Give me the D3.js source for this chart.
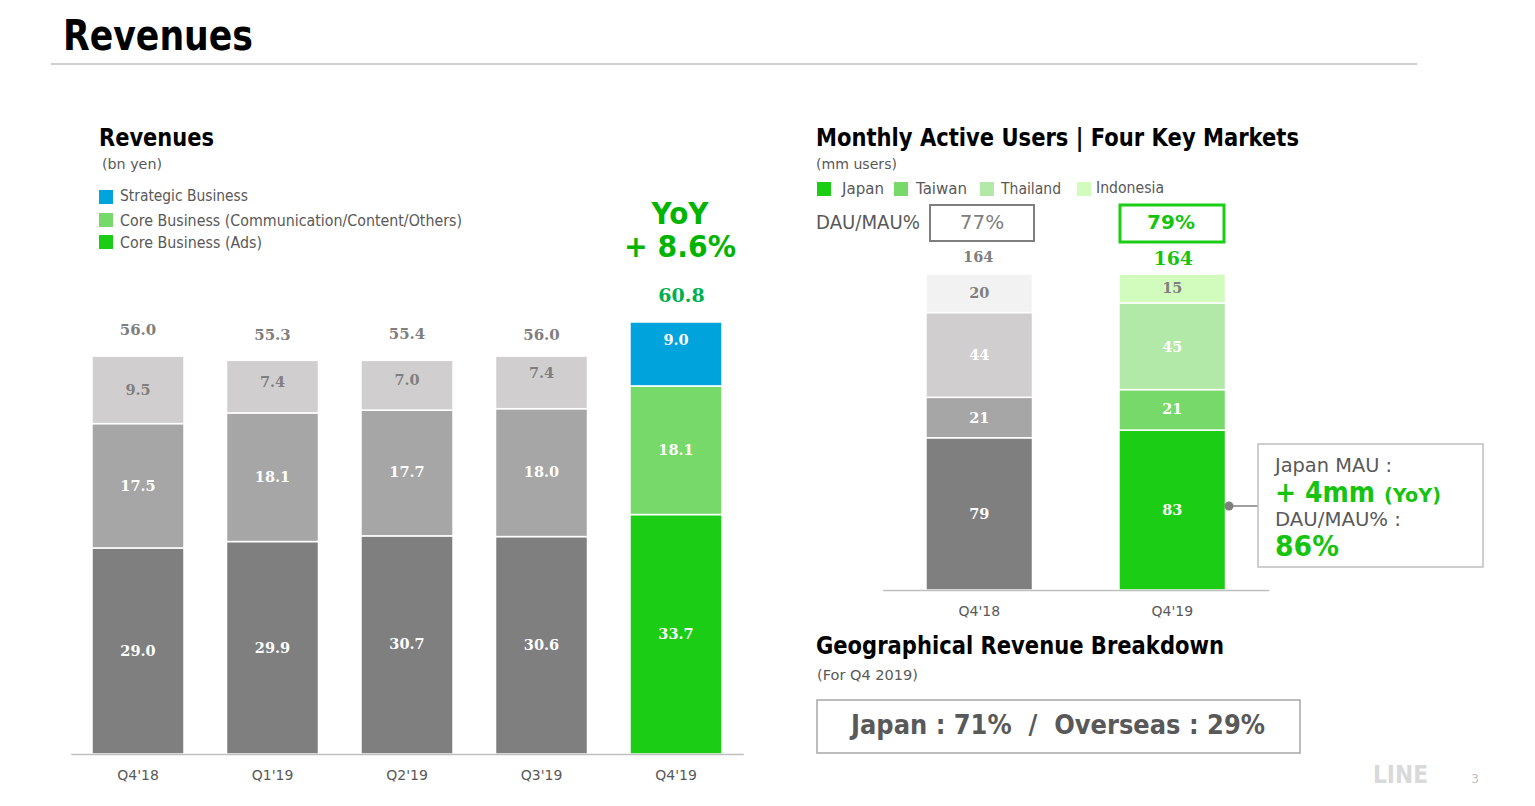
<!DOCTYPE html>
<html>
<head>
<meta charset="utf-8">
<script src="https://cdn.jsdelivr.net/npm/d3@7"></script>
<style>
body { margin: 0; background: #fff; }
svg { display: block; }
text { font-family: "DejaVu Sans", sans-serif; }
.domain { stroke: #bfbfbf; stroke-width: 1.5; }
</style>
</head>
<body>
<div id="chart"></div>
<script>
// revenues (bn yen)
var revQuarters = ["Q4'18", "Q1'19", "Q2'19", "Q3'19", "Q4'19"];
var revAds = [29.0, 29.9, 30.7, 30.6, 33.7];
var revCore = [17.5, 18.1, 17.7, 18.0, 18.1];
var revStrategic = [9.5, 7.4, 7.0, 7.4, 9.0];
var revTotals = ["56.0", "55.3", "55.4", "56.0", "60.8"];
var revLegend = ["Strategic Business", "Core Business (Communication/Content/Others)", "Core Business (Ads)"];

// monthly active users (mm users)
var mauQuarters = ["Q4'18", "Q4'19"];
var mauJapan = [79, 83];
var mauTaiwan = [21, 21];
var mauThailand = [44, 45];
var mauIndonesia = [20, 15];
var mauTotals = ["164", "164"];
var dauMau = ["77%", "79%"];
var mauLegend = ["Japan", "Taiwan", "Thailand", "Indonesia"];

var GREEN = "#1bcd14", GREEN2 = "#76d96a", GREEN3 = "#b2e9a9", GREEN4 = "#d2fcbe", BLUE = "#00a3dc";
var GREY = "#7f7f7f", GREY2 = "#a6a6a6", GREY3 = "#d0cece", GREY4 = "#f2f2f2";
var TEXT = "#595959", SOFT = "#7f7f7f";

var svg = d3.select("#chart").append("svg").attr("width", 1535).attr("height", 806);

// text helper, w squeezes the run to the width measured off the slide
function label(x, y, str, size, fill, weight, anchor, w, family) {
    var t = svg.append("text")
        .attr("x", x).attr("y", y)
        .attr("font-size", size)
        .attr("fill", fill)
        .attr("font-weight", weight || "normal")
        .attr("text-anchor", anchor || "start")
        .text(str);
    if (w) t.attr("textLength", w).attr("lengthAdjust", "spacingAndGlyphs");
    if (family) t.style("font-family", family);
    return t;
}
var SERIF = '"DejaVu Serif", serif';

function box(x, y, w, h, stroke, sw) {
    svg.append("rect").attr("x", x).attr("y", y).attr("width", w).attr("height", h)
        .attr("fill", "#fff").attr("stroke", stroke).attr("stroke-width", sw);
}

function stackChart(cfg) {
    var rows = cfg.categories.map(function(c, i) {
        var row = {cat: c};
        cfg.keys.forEach(function(k, j) { row[k] = cfg.series[j][i]; });
        return row;
    });
    var x = d3.scaleBand().domain(cfg.categories).range(cfg.xRange)
        .paddingInner(cfg.padding).paddingOuter(cfg.padding / 2);
    var y = d3.scaleLinear().domain([0, cfg.max]).range(cfg.yRange);
    var layers = d3.stack().keys(cfg.keys)(rows);
    var g = svg.append("g");
    layers.forEach(function(layer, j) {
        var marks = g.selectAll(null).data(layer).enter();
        marks.append("rect")
            .attr("x", function(d) { return x(d.data.cat); })
            .attr("y", function(d) { return y(d[1]); })
            .attr("width", x.bandwidth())
            .attr("height", function(d) { return y(d[0]) - y(d[1]); })
            .attr("fill", function(d, i) { return cfg.colors(i)[j]; })
            .attr("stroke", "#fff")
            .attr("stroke-width", 1.5);
        marks.append("text")
            .attr("x", function(d) { return x(d.data.cat) + x.bandwidth() / 2; })
            .attr("y", function(d, i) { return (y(d[0]) + y(d[1])) / 2 + cfg.nudge(j, i) + 5; })
            .attr("text-anchor", "middle")
            .attr("font-size", cfg.valueSize)
            .attr("font-weight", "bold")
            .attr("fill", function(d, i) { return cfg.labelColors(i)[j]; })
            .style("font-family", SERIF)
            .text(function(d) { return cfg.format(d[1] - d[0]); });
    });
    var axis = svg.append("g")
        .attr("transform", "translate(0," + cfg.yRange[0] + ")")
        .call(d3.axisBottom(x).tickSize(0).tickPadding(cfg.tickPadding));
    axis.selectAll("text").attr("font-size", 14).attr("fill", TEXT)
        .style("font-family", '"DejaVu Sans", sans-serif');
    return {x: x, y: y};
}

// page header
label(63, 50, "Revenues", 42, "#000", "bold", "start", 190);
svg.append("line").attr("x1", 51).attr("x2", 1417).attr("y1", 64).attr("y2", 64)
    .attr("stroke", "#bfbfbf").attr("stroke-width", 1.5);

// left panel
label(99, 146, "Revenues", 24, "#000", "bold", "start", 115);
label(102, 169, "(bn yen)", 14.5, TEXT, "normal", "start", 60);
var revLegendColors = [BLUE, GREEN2, GREEN];
var revLegendY = [190, 213, 235];
var revLegendTextY = [201, 226, 248];
var revLegendW = [128, 342, 142];
revLegend.forEach(function(s, i) {
    svg.append("rect").attr("x", 99).attr("y", revLegendY[i]).attr("width", 14).attr("height", 14)
        .attr("fill", revLegendColors[i]);
    label(120, revLegendTextY[i], s, 15, TEXT, "normal", "start", revLegendW[i]);
});
label(680, 224, "YoY", 30, "#00b400", "bold", "middle", 57);
label(680, 257, "+ 8.6%", 31, "#00b400", "bold", "middle", 112);

var revLabelNudge = [
    [0, 0, -1, 0, 0],
    [0, 0, -1, -1, 0],
    [0, -5, -5, -9, -14]
];
var rev = stackChart({
    categories: revQuarters,
    keys: ["ads", "core", "strategic"],
    series: [revAds, revCore, revStrategic],
    xRange: [70.75, 743.25],
    padding: 0.316,
    yRange: [754, 322],
    max: 60.8,
    colors: function(i) { return i === 4 ? [GREEN, GREEN2, BLUE] : [GREY, GREY2, GREY3]; },
    labelColors: function(i) { return i === 4 ? ["#fff", "#fff", "#fff"] : ["#fff", "#fff", SOFT]; },
    nudge: function(j, i) { return revLabelNudge[j][i]; },
    format: d3.format(".1f"),
    valueSize: 14.5,
    tickPadding: 16
});
var revTotalY = [335, 340, 339, 340, 302];
revTotals.forEach(function(s, i) {
    var last = i === 4;
    label(rev.x(revQuarters[i]) + rev.x.bandwidth() / 2 + (last ? 5.5 : 0), revTotalY[i], s,
        last ? 19 : 15, last ? "#00b050" : SOFT, "bold", "middle", null, SERIF);
});

// right panel
label(816, 146, "Monthly Active Users | Four Key Markets", 24, "#000", "bold", "start", 483);
label(816, 169, "(mm users)", 14.5, TEXT, "normal", "start", 81);
var mauLegendColors = [GREEN, GREEN2, GREEN3, GREEN4];
var mauSwatchX = [817, 894, 980, 1077];
var mauTextX = [842, 916, 1001, 1096];
var mauTextW = [42, 51, 60, 68];
mauLegend.forEach(function(s, i) {
    svg.append("rect").attr("x", mauSwatchX[i]).attr("y", 182).attr("width", 14).attr("height", 14)
        .attr("fill", mauLegendColors[i]);
    label(mauTextX[i], i === 3 ? 193 : 194, s, 15, TEXT, "normal", "start", mauTextW[i]);
});
label(816, 229, "DAU/MAU%", 19, TEXT, "normal", "start", 104);
box(930, 205, 104, 36, GREY, 2);
box(1120, 205, 104, 37, GREEN, 3);
label(982, 229, dauMau[0], 20, SOFT, "normal", "middle");
label(1171, 229, dauMau[1], 20, "#16c40f", "bold", "middle");

var mauLabelNudge = [
    [0, 0],
    [0, -1],
    [0, 1],
    [0, 0]
];
var mau = stackChart({
    categories: mauQuarters,
    keys: ["japan", "taiwan", "thailand", "indonesia"],
    series: [mauJapan, mauTaiwan, mauThailand, mauIndonesia],
    xRange: [882.75, 1268.75],
    padding: 0.448,
    yRange: [590, 274],
    max: 164,
    colors: function(i) { return i === 1 ? [GREEN, GREEN2, GREEN3, GREEN4] : [GREY, GREY2, GREY3, GREY4]; },
    labelColors: function() { return ["#fff", "#fff", "#fff", SOFT]; },
    nudge: function(j, i) { return mauLabelNudge[j][i]; },
    format: d3.format("d"),
    valueSize: 14.5,
    tickPadding: 16
});
mauTotals.forEach(function(s, i) {
    var last = i === 1;
    label(mau.x(mauQuarters[i]) + mau.x.bandwidth() / 2 + (last ? 1 : -1), last ? 265 : 262, s,
        last ? 19 : 14.5, last ? "#16c40f" : SOFT, "bold", "middle", null, SERIF);
});

// callout on the Japan segment
svg.append("line").attr("x1", 1229).attr("x2", 1258).attr("y1", 506).attr("y2", 506)
    .attr("stroke", GREY).attr("stroke-width", 1.5);
svg.append("circle").attr("cx", 1229).attr("cy", 506).attr("r", 4.5).attr("fill", GREY);
box(1258, 444, 225, 123, "#bfbfbf", 1.5);
label(1275, 472, "Japan MAU :", 19, TEXT, "normal", "start", 117);
label(1275, 502, "+ 4mm", 28, "#16c40f", "bold", "start", 100);
label(1384, 502, "(YoY)", 20, "#16c40f", "bold", "start", 57);
label(1275, 526, "DAU/MAU% :", 19, TEXT, "normal", "start", 126);
label(1275, 556, "86%", 28, "#16c40f", "bold", "start", 64);

// geographical breakdown
label(816, 654, "Geographical Revenue Breakdown", 24, "#000", "bold", "start", 408);
label(817, 680, "(For Q4 2019)", 14.5, TEXT, "normal", "start", 101);
box(817, 700, 483, 53, "#a6a6a6", 1.5);
label(1058, 734, "Japan : 71%  /  Overseas : 29%", 27, TEXT, "bold", "middle", 414).attr("xml:space", "preserve").style("white-space", "pre");

// footer
label(1373, 783, "LINE", 25, "#d9d9d9", "bold", "start", 55);
label(1475, 783, "3", 12, "#bfbfbf", "normal", "middle");
</script>
</body>
</html>
